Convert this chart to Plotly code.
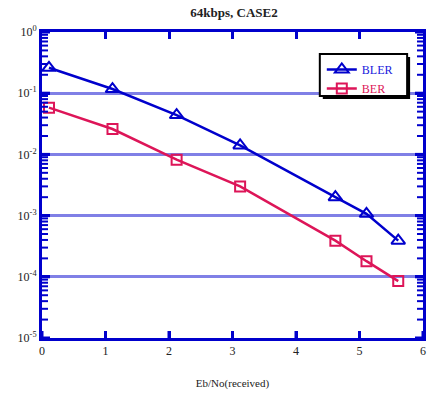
import plotly.graph_objects as go

ebno = [0.11, 1.11, 2.12, 3.12, 4.62, 5.11, 5.61]
bler = [0.26, 0.117, 0.044, 0.014, 0.002, 0.00107, 0.00039]
ber = [0.058, 0.026, 0.0082, 0.003, 0.00039, 0.00018, 0.000085]
yexp = [0, -1, -2, -3, -4, -5]
ytick_text = ["10<sup>0</sup>", "10<sup>-1</sup>", "10<sup>-2</sup>", "10<sup>-3</sup>", "10<sup>-4</sup>", "10<sup>-5</sup>"]
xtick_vals = [0, 1, 2, 3, 4, 5, 6]
xrange_ = [0, 6]
yrange_ = [1e-5, 1]
minor_vals = [m * 10.0 ** e for e in range(-5, 0) for m in range(2, 10)]
major_vals = [10.0 ** e for e in yexp]

BLUE = "#0000cc"
RED = "#dd1558"
GRID = "#8080e6"
FONT = "Times New Roman"

# map plotly's default ".0e" labels to 10^n labels
alias = {}
for e, t in zip(yexp, ytick_text):
    for s in (f"1e{e:+d}", f"1e{e:+d}".replace("-", "\u2212"), f"1e{e}", f"1e{e}".replace("-", "\u2212")):
        alias[s] = t

fig = go.Figure()
fig.add_trace(go.Scatter(x=ebno, y=bler, mode="lines+markers",
                         name="<span style='color:#2020dd'>BLER</span>",
                         line=dict(color=BLUE, width=2.5),
                         marker=dict(symbol="triangle-up-open", size=12, color=BLUE, line=dict(width=2, color=BLUE))))
fig.add_trace(go.Scatter(x=ebno, y=ber, mode="lines+markers",
                         name="<span style='color:#dd1558'>BER</span>",
                         line=dict(color=RED, width=2.5),
                         marker=dict(symbol="square-open", size=10, color=RED, line=dict(width=2, color=RED))))

L, R, T, B = 42, 4, 32, 60
W, H = 430, 398
pw, ph = W - L - R, H - T - B

def px(x):
    return (x - L) / pw

def py(y):
    return (H - B - y) / ph

# tick marks on all four sides of the frame (pixel-sized, anchored at axis values)
def ytick(v, length, width):
    for anchor, x0, x1 in ((xrange_[0], 0, length), (xrange_[1], -length, 0)):
        fig.add_shape(type="line", xref="x", yref="y", xsizemode="pixel", xanchor=anchor,
                      x0=x0, x1=x1, y0=v, y1=v, layer="above",
                      line=dict(color=BLUE, width=width))

for v in minor_vals:
    ytick(v, 6, 2)
for v in major_vals:
    ytick(v, 8, 3)
for v in xtick_vals:
    for anchor, y0, y1 in ((yrange_[0], 0, 7), (yrange_[1], -7, 0)):
        fig.add_shape(type="line", xref="x", yref="y", ysizemode="pixel", yanchor=anchor,
                      x0=v, x1=v, y0=y0, y1=y1, layer="above",
                      line=dict(color=BLUE, width=3))

# legend shadow and box
fig.add_shape(type="rect", xref="paper", yref="paper", layer="above",
              x0=px(325), x1=px(413), y0=py(99), y1=py(57),
              fillcolor="black", line=dict(width=0))
fig.add_shape(type="rect", xref="paper", yref="paper", layer="above",
              x0=px(322), x1=px(410), y0=py(96), y1=py(54),
              fillcolor="white", line=dict(width=2, color="black"))

fig.update_layout(
    width=W, height=H,
    margin=dict(l=L, r=R, t=T, b=B),
    paper_bgcolor="white", plot_bgcolor="white",
    font=dict(family=FONT, size=12, color="#222"),
    title=dict(text="<b>64kbps, CASE2</b>", x=(234) / W, xanchor="center", y=1 - 12 / H, yanchor="middle",
               font=dict(family=FONT, size=13, color="#222")),
    showlegend=True,
    legend=dict(x=px(324), y=py(55), xanchor="left", yanchor="top",
                bgcolor="rgba(0,0,0,0)", borderwidth=0,
                font=dict(family=FONT, size=12), tracegroupgap=0, itemwidth=30),
)
fig.update_xaxes(range=xrange_, tickvals=xtick_vals, showgrid=False, zeroline=False,
                 showline=True, linecolor=BLUE, linewidth=3, mirror="ticks",
                 ticks="inside", ticklen=7, tickwidth=3, tickcolor=BLUE,
                 tickfont=dict(family=FONT, size=12, color="#222"),
                 title=dict(text="Eb/No(received)", font=dict(family=FONT, size=11, color="#222"), standoff=22))
fig.update_yaxes(type="log", range=[-5, 0], tickmode="linear", tick0=0, dtick=1,
                 tickformat=".0e", labelalias=alias,
                 showgrid=True, gridcolor=GRID, gridwidth=3, zeroline=False,
                 showline=True, linecolor=BLUE, linewidth=3, mirror="ticks",
                 ticks="inside", ticklen=8, tickwidth=3, tickcolor=BLUE,
                 tickfont=dict(family=FONT, size=12, color="#222"))

fig.write_html("out.html")
